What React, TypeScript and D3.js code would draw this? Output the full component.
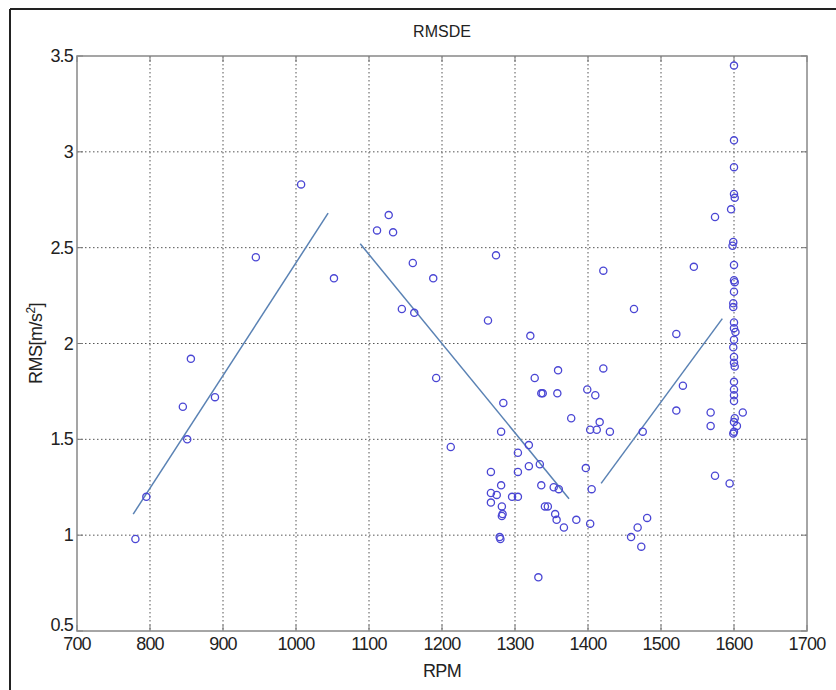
import React from "react";
import * as d3 from "d3";

// Measured RMS against engine speed
const rpm = [
  780, 795, 845, 851, 856, 889, 945, 1007, 1052,
  1111, 1127, 1133, 1160, 1188, 1145, 1162, 1192, 1212, 1263, 1274, 1321, 1284, 1281, 1327, 1359,
  1336, 1338, 1358, 1377, 1421, 1421, 1399, 1410, 1416, 1403, 1412, 1430, 1319, 1304, 1267, 1304,
  1319, 1334, 1281, 1267, 1275, 1267, 1296, 1304, 1282, 1283, 1282, 1336, 1353, 1360, 1397, 1405,
  1341, 1345, 1355, 1357, 1367, 1384, 1403, 1279, 1280, 1332,
  1459, 1468, 1481, 1473, 1475, 1463, 1545, 1521, 1530, 1521, 1568, 1568, 1574, 1574, 1612, 1604, 1594,
  1600, 1600, 1600, 1600, 1601, 1596, 1599, 1598, 1600, 1600, 1601, 1600, 1599, 1599, 1600, 1600,
  1602, 1600, 1599, 1600, 1600, 1601, 1600, 1600, 1600, 1600, 1601, 1600, 1600, 1599,
];
const rms = [
  0.98, 1.2, 1.67, 1.5, 1.92, 1.72, 2.45, 2.83, 2.34,
  2.59, 2.67, 2.58, 2.42, 2.34, 2.18, 2.16, 1.82, 1.46, 2.12, 2.46, 2.04, 1.69, 1.54, 1.82, 1.86,
  1.74, 1.74, 1.74, 1.61, 1.87, 2.38, 1.76, 1.73, 1.59, 1.55, 1.55, 1.54, 1.47, 1.43, 1.33, 1.33,
  1.36, 1.37, 1.26, 1.22, 1.21, 1.17, 1.2, 1.2, 1.15, 1.11, 1.1, 1.26, 1.25, 1.24, 1.35, 1.24,
  1.15, 1.15, 1.11, 1.08, 1.04, 1.08, 1.06, 0.99, 0.98, 0.78,
  0.99, 1.04, 1.09, 0.94, 1.54, 2.18, 2.4, 2.05, 1.78, 1.65, 1.64, 1.57, 2.66, 1.31, 1.64, 1.57, 1.27,
  3.45, 3.06, 2.92, 2.78, 2.76, 2.7, 2.53, 2.51, 2.41, 2.33, 2.32, 2.27, 2.21, 2.19, 2.11, 2.08,
  2.06, 2.02, 1.98, 1.93, 1.9, 1.88, 1.8, 1.76, 1.73, 1.7, 1.61, 1.59, 1.54, 1.53, 1.44, 1.42,
];

// Piecewise linear fits: [rpm0, rms0, rpm1, rms1]
const fitSegments = [
  [777, 1.11, 1044, 2.68],
  [1088, 2.52, 1374, 1.19],
  [1418, 1.27, 1584, 2.13],
];

const xTicks = [700, 800, 900, 1000, 1100, 1200, 1300, 1400, 1500, 1600, 1700];
const yTicks = [0.5, 1, 1.5, 2, 2.5, 3, 3.5];

const W = 836;
const H = 690;
const M = { left: 77, right: 807, top: 56, bottom: 631 };

export default function App() {
  const x = d3.scaleLinear().domain([700, 1700]).range([M.left, M.right]);
  const y = d3.scaleLinear().domain([0.5, 3.5]).range([M.bottom, M.top]);
  const font = "'Liberation Sans', Arial, sans-serif";
  const line = d3.line<[number, number]>().x((d) => x(d[0])).y((d) => y(d[1]));
  const tickFont = 18;

  return (
    <svg
      width={W}
      height={H}
      style={{ position: "absolute", left: 0, top: 0, background: "#fff" }}
      fontFamily={font}
    >
      <rect x={0} y={0} width={W} height={H} fill="#fff" />
      {/* outer frame */}
      <line x1={10} y1={9} x2={W} y2={9} stroke="#222" strokeWidth={2} />
      <line x1={10} y1={9} x2={10} y2={H} stroke="#222" strokeWidth={2} />

      {/* grid */}
      {xTicks.slice(1, -1).map((t) => (
        <line key={"gx" + t} x1={x(t)} x2={x(t)} y1={M.top} y2={M.bottom}
          stroke="#555" strokeWidth={1} strokeDasharray="1.5,2.5" />
      ))}
      {yTicks.slice(1, -1).map((t) => (
        <line key={"gy" + t} x1={M.left} x2={M.right} y1={y(t)} y2={y(t)}
          stroke="#555" strokeWidth={1} strokeDasharray="1.5,2.5" />
      ))}

      {/* ticks */}
      {xTicks.map((t) => (
        <g key={"tx" + t}>
          <line x1={x(t)} x2={x(t)} y1={M.bottom} y2={M.bottom - 6} stroke="#777" />
          <line x1={x(t)} x2={x(t)} y1={M.top} y2={M.top + 6} stroke="#777" />
          <text x={x(t)} y={M.bottom + 19} textAnchor="middle" fontSize={tickFont}
            fill="#222" letterSpacing={-0.8}>{t}</text>
        </g>
      ))}
      {yTicks.map((t) => (
        <g key={"ty" + t}>
          <line x1={M.left} x2={M.left + 6} y1={y(t)} y2={y(t)} stroke="#777" />
          <line x1={M.right} x2={M.right - 6} y1={y(t)} y2={y(t)} stroke="#777" />
          <text x={M.left - 4} y={y(t) + (t === 0.5 ? 0 : 6)} textAnchor="end" fontSize={tickFont}
            fill="#222" letterSpacing={-0.8}>{t}</text>
        </g>
      ))}

      {/* axes box */}
      <rect x={M.left} y={M.top} width={M.right - M.left} height={M.bottom - M.top}
        fill="none" stroke="#888" strokeWidth={1.5} />

      {/* fitted lines */}
      {fitSegments.map((s, i) => (
        <path key={"fit" + i}
          d={line([[s[0], s[1]], [s[2], s[3]]]) || ""}
          stroke="#5a82b4" strokeWidth={1.5} fill="none" />
      ))}

      {/* samples */}
      {rpm.map((r, i) => (
        <circle key={"p" + i} cx={x(r)} cy={y(rms[i])} r={3.6}
          fill="none" stroke="#4a46d4" strokeWidth={1.3} />
      ))}

      {/* labels */}
      <text x={(M.left + M.right) / 2} y={37} textAnchor="middle" fontSize={16} fill="#222">RMSDE</text>
      <text x={(M.left + M.right) / 2} y={677} textAnchor="middle" fontSize={18} fill="#222"
        letterSpacing={-0.6}>RPM</text>
      <text transform={`translate(42, ${(M.top + M.bottom) / 2}) rotate(-90)`}
        textAnchor="middle" fontSize={18} fill="#222" letterSpacing={-0.5}>
        RMS[m/s<tspan dy={-7} fontSize={12}>2</tspan><tspan dy={7}>]</tspan>
      </text>
    </svg>
  );
}
